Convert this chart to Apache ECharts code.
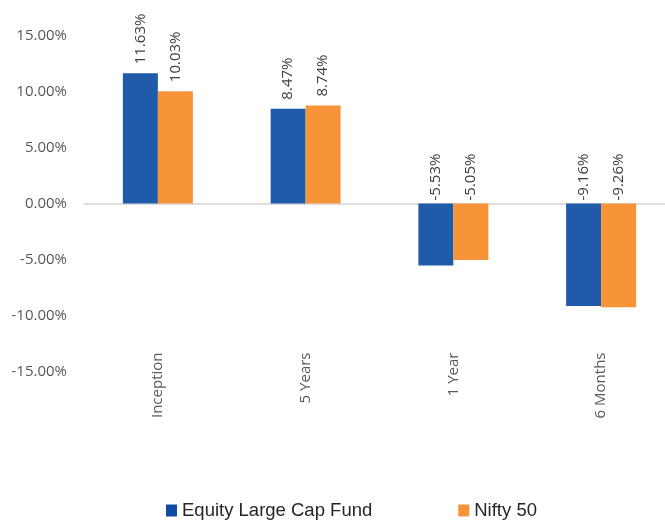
<!DOCTYPE html>
<html>
<head>
<meta charset="utf-8">
<script src="https://cdn.jsdelivr.net/npm/echarts@6/dist/echarts.min.js"></script>
<style>
  html, body { margin: 0; padding: 0; background: #fff; }
  #chart { width: 665px; height: 523px; }
</style>
</head>
<body>
<div id="chart"></div>
<script>
// returns by period
const categories = ['Inception', '5 Years', '1 Year', '6 Months'];
const fundValues = [11.63, 8.47, -5.53, -9.16];
const niftyValues = [10.03, 8.74, -5.05, -9.26];
const seriesNames = ['Equity Large Cap Fund', 'Nifty 50'];

const BLUE = '#1F5BA9';
const ORANGE = '#F7943A';
const FONT = '"Open Sans", sans-serif';

function pct(v) {
  return v.toFixed(2) + '%';
}

// positive bars: label above the bar, negative: label above zero line
function barData(values) {
  return values.map(function (v) {
    return {
      value: v,
      label: { distance: v >= 0 ? 9 : 3 }
    };
  });
}

function barLabel() {
  return {
    show: true,
    position: 'top',
    rotate: 90,
    align: 'left',
    verticalAlign: 'middle',
    fontFamily: FONT,
    fontSize: 15,
    color: '#404040',
    formatter: function (p) { return pct(p.value); }
  };
}

const chart = echarts.init(document.getElementById('chart'), null, { renderer: 'canvas' });

chart.setOption({
  animation: false,
  grid: {
    left: 84,
    width: 591,
    top: 35.5,
    bottom: 151.5,
    containLabel: false,
    outerBoundsMode: 'none'
  },
  legend: {
    left: 161,
    top: 496,
    itemWidth: 11,
    itemHeight: 12,
    itemGap: 86,
    icon: 'rect',
    textStyle: {
      fontFamily: '"Liberation Sans", Arial, sans-serif',
      fontSize: 18.5,
      color: '#262626'
    },
    data: [
      { name: seriesNames[0], itemStyle: { color: '#0E4DA1' } },
      { name: seriesNames[1], itemStyle: { color: ORANGE } }
    ]
  },
  xAxis: [
    {
      // labels at the bottom
      type: 'category',
      data: categories,
      position: 'bottom',
      axisLine: { show: false, onZero: false },
      axisTick: { show: false },
      axisLabel: {
        rotate: 90,
        margin: -19,
        fontFamily: FONT,
        fontSize: 15,
        color: '#595959'
      }
    },
    {
      // zero line
      type: 'category',
      data: categories,
      axisLine: { show: true, onZero: true, lineStyle: { color: '#D4D4D4', width: 1.5 } },
      axisTick: { show: false },
      axisLabel: { show: false }
    }
  ],
  yAxis: {
    type: 'value',
    min: -15,
    max: 15,
    interval: 5,
    axisLine: { show: false },
    axisTick: { show: false },
    splitLine: { show: false },
    axisLabel: {
      margin: 17,
      fontFamily: FONT,
      fontSize: 15,
      color: '#595959',
      formatter: function (v) { return pct(v); }
    }
  },
  series: [
    {
      name: seriesNames[0],
      type: 'bar',
      xAxisIndex: 0,
      barWidth: 35,
      barGap: '0%',
      itemStyle: { color: BLUE },
      label: barLabel(),
      data: barData(fundValues)
    },
    {
      name: seriesNames[1],
      type: 'bar',
      xAxisIndex: 0,
      barWidth: 35,
      barGap: '0%',
      itemStyle: { color: ORANGE },
      label: barLabel(),
      data: barData(niftyValues)
    }
  ]
});
</script>
</body>
</html>
